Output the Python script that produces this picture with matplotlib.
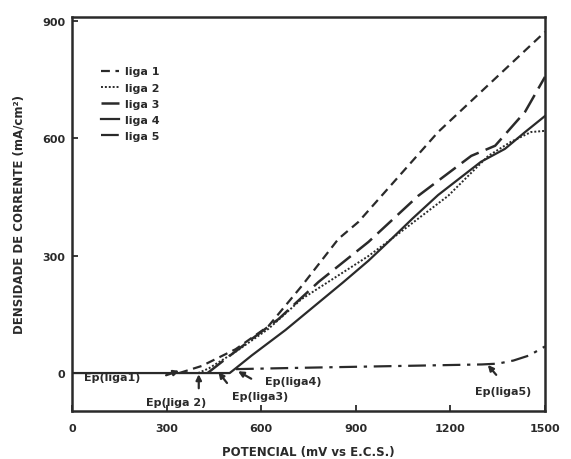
import matplotlib
matplotlib.use("Agg")
import matplotlib.pyplot as plt

# ---- data ----
liga1_x = [340, 411, 519, 623, 728, 845, 908, 1161, 1500]
liga1_y = [0, 18, 61, 120, 222, 343, 386, 616, 872]

liga2_x = [400, 434, 520, 623, 728, 940, 1025, 1193, 1320, 1392, 1456, 1500]
liga2_y = [0, 12, 55, 113, 189, 299, 350, 453, 555, 591, 616, 619]

liga3_x = [430, 487, 570, 655, 782, 940, 1098, 1266, 1342, 1437, 1500]
liga3_y = [0, 36, 87, 138, 233, 335, 453, 555, 581, 668, 757]

liga4_x = [0, 500, 519, 570, 677, 782, 860, 940, 1003, 1080, 1161, 1297, 1373, 1437, 1500]
liga4_y = [0, 0, 12, 45, 110, 180, 232, 287, 335, 395, 455, 540, 573, 616, 657]

liga5_x = [520, 700, 900, 1100, 1300, 1350, 1400, 1450, 1500]
liga5_y = [10, 13, 16, 19, 22, 24, 32, 45, 68]

x_ticks = [0, 300, 600, 900, 1200, 1500]
y_ticks = [0, 300, 600, 900]

series_names = ["liga 1", "liga 2", "liga 3", "liga 4", "liga 5"]

ep_labels = ["Ep(liga1)", "Ep(liga 2)", "Ep(liga3)", "Ep(liga4)", "Ep(liga5)"]
ep_tips = [(348, 8), (402, 4), (459, 8), (519, 8), (1313, 26)]

# ---- figure ----
plt.rcParams['font.family'] = ['DejaVu Sans']
plt.rcParams['font.weight'] = 'bold'
fig = plt.figure(figsize=(5.71, 4.6), dpi=100)
ax = fig.add_axes([72/571, 1-412/460, (545-72)/571, (412-18)/460])

ink = '#2a2a2a'
styles = [
    dict(ls=(0, (4, 2.5)), lw=1.6),
    dict(ls=(0, (1, 1.0)), lw=1.4),
    dict(ls=(0, (8, 3)), lw=1.8),
    dict(ls='-', lw=1.6),
    dict(ls=(0, (8, 3, 1.5, 3)), lw=1.6),
]
data = [(liga1_x, liga1_y), (liga2_x, liga2_y), (liga3_x, liga3_y),
        (liga4_x, liga4_y), (liga5_x, liga5_y)]
for (xs, ys), st, name in zip(data, styles, series_names):
    ax.plot(xs, ys, color=ink, linestyle=st['ls'], lw=st['lw'], label=name)

ax.set_xlim(0, 1500)
ax.set_ylim(-97, 910)
ax.set_xticks(x_ticks)
ax.set_yticks(y_ticks)
ax.tick_params(direction='in', length=4, width=1.3, labelsize=8, colors=ink)
ax.tick_params(axis='x', pad=9)
ax.tick_params(axis='y', pad=5)
for lab in ax.get_xticklabels() + ax.get_yticklabels():
    lab.set_fontweight('bold')
for s in ax.spines.values():
    s.set_linewidth(1.8)
    s.set_color(ink)

ax.set_xlabel("POTENCIAL (mV vs E.C.S.)", fontsize=8.5, fontweight='bold', color=ink, labelpad=8)
ax.set_ylabel("DENSIDADE DE CORRENTE (mA/cm²)", fontsize=8.5, fontweight='bold', color=ink, labelpad=12)

leg = ax.legend(loc='upper left', bbox_to_anchor=(0.04, 0.90), frameon=False,
                handlelength=1.6, fontsize=8, labelspacing=0.55, handletextpad=0.6)
for t in leg.get_texts():
    t.set_color(ink)
    t.set_fontweight('bold')

# Ep annotations
text_pos = [(127, -10), (329, -74), (598, -59), (703, -20), (1367, -46)]
tails = [(290, -8), (402, -46), (497, -31), (576, -18), (1351, -10)]
for lab, tip, tp, tl in zip(ep_labels, ep_tips, text_pos, tails):
    ax.annotate('', xy=tip, xytext=tl,
                arrowprops=dict(arrowstyle='-|>', color=ink, lw=1.6, mutation_scale=8))
    ax.text(tp[0], tp[1], lab, ha='center', va='center', fontsize=8,
            fontweight='bold', color=ink)

fig.savefig("out.png", dpi=100)
